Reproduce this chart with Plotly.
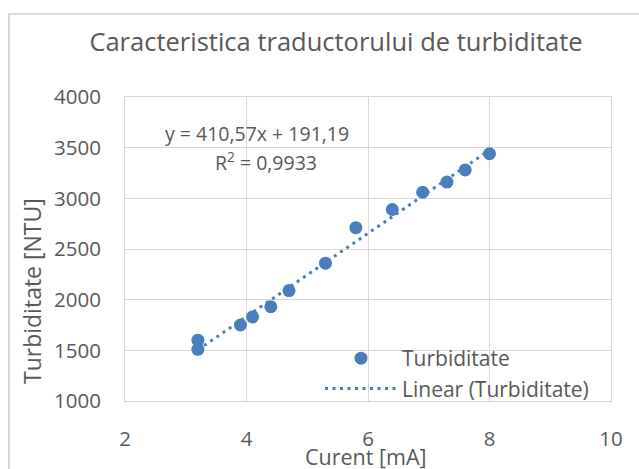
import plotly.graph_objects as go

# Measured transducer characteristic: output current vs turbidity
curent_ma = [3.2, 3.2, 3.9, 4.1, 4.4, 4.7, 5.3, 5.8, 6.4, 6.9, 7.3, 7.6, 8.0]
turbiditate_ntu = [1600, 1510, 1750, 1830, 1930, 2090, 2360, 2710, 2890, 3060, 3160, 3280, 3440]

# Linear regression reported on the chart
panta = 410.57
intercept = 191.19
r_patrat = 0.9933

x_ticks = [2, 4, 6, 8, 10]
y_ticks = [1000, 1500, 2000, 2500, 3000, 3500, 4000]

W, H = 639, 469
M_L, M_R, M_T, M_B = 125, 28, 97, 68
PLOT_W = W - M_L - M_R
PLOT_H = H - M_T - M_B


def px_to_paper(px, py):
    return (px - M_L) / PLOT_W, (H - M_B - py) / PLOT_H


BLUE = "#4A7EBF"
TEXT = "#595959"
GRID = "#D9D9D9"
FONT = "Open Sans, Liberation Sans, sans-serif"


def ro(v, nd=2):
    return f"{v:.{nd}f}".replace(".", ",")


x_fit = [min(curent_ma), max(curent_ma)]
y_fit = [panta * x + intercept for x in x_fit]

fig = go.Figure()
fig.add_trace(go.Scatter(
    x=curent_ma, y=turbiditate_ntu, mode="markers", name="Turbiditate",
    marker=dict(size=13, color=BLUE),
))
fig.add_trace(go.Scatter(
    x=x_fit, y=y_fit, mode="lines", name="Linear (Turbiditate)",
    line=dict(color=BLUE, width=3, dash="3px,4.5px"),
))

axis_common = dict(
    showgrid=True, gridcolor=GRID, gridwidth=1, zeroline=False,
    showline=True, linecolor=GRID, linewidth=1, mirror=True,
    ticks="outside", tickcolor="rgba(0,0,0,0)",
    tickfont=dict(family=FONT, size=20.5, color=TEXT),
)

fig.update_xaxes(range=[2, 10], tickvals=x_ticks, ticklen=19, **axis_common)
fig.update_yaxes(range=[1000, 4000], tickvals=y_ticks, ticklen=19, **axis_common)

annotations = []
ex, ey = px_to_paper(257, 133)
annotations.append(dict(
    text=f"y = {ro(panta)}x + {ro(intercept)}", x=ex, y=ey, xref="paper", yref="paper",
    showarrow=False, font=dict(family=FONT, size=19.5, color=TEXT), xanchor="center", yanchor="middle",
))
rx, ry = px_to_paper(266, 161)
annotations.append(dict(
    text=f"R<sup>2</sup> = {ro(r_patrat, 4)}", x=rx, y=ry, xref="paper", yref="paper",
    showarrow=False, font=dict(family=FONT, size=19.5, color=TEXT), xanchor="center", yanchor="middle",
))
tx, ty = px_to_paper(366, 456)
annotations.append(dict(
    text="Curent [mA]", x=tx, y=ty, xref="paper", yref="paper",
    showarrow=False, font=dict(family=FONT, size=21.5, color=TEXT), xanchor="center", yanchor="middle",
))
vx, vy = px_to_paper(32, 291)
annotations.append(dict(
    text="Turbiditate [NTU]", x=vx, y=vy, xref="paper", yref="paper", textangle=-90,
    showarrow=False, font=dict(family=FONT, size=23, color=TEXT), xanchor="center", yanchor="middle",
))

bx0, by0 = px_to_paper(9, 14)
bx1, by1 = px_to_paper(660, 490)

lx, ly = px_to_paper(320, 338)

fig.update_layout(
    width=W, height=H,
    margin=dict(l=M_L, r=M_R, t=M_T, b=M_B),
    paper_bgcolor="white", plot_bgcolor="white",
    title=dict(
        text="Caracteristica traductorului de turbiditate",
        x=336 / W, xref="container", xanchor="center",
        y=1 - 42 / H, yref="container", yanchor="middle",
        font=dict(family=FONT, size=25.5, color=TEXT),
    ),
    showlegend=True,
    legend=dict(
        x=lx, y=ly, xanchor="left", yanchor="top",
        bgcolor="rgba(0,0,0,0)", borderwidth=0,
        font=dict(family=FONT, size=21, color=TEXT),
        itemwidth=72, tracegroupgap=0,
    ),
    annotations=annotations,
    shapes=[dict(
        type="rect", xref="paper", yref="paper", x0=bx0, y0=by0, x1=bx1, y1=by1,
        line=dict(color=GRID, width=2), layer="below",
    )],
)

fig.write_html("out.html")
